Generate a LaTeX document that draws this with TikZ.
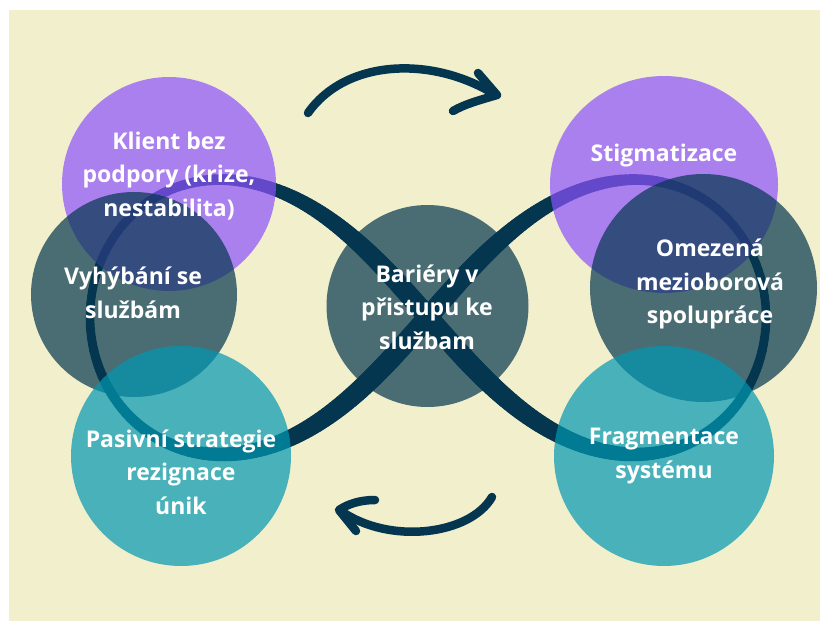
\documentclass[tikz,border=0pt]{standalone}
\usepackage{fontspec}
\setmainfont{Open Sans}
\usetikzlibrary{shapes.geometric}
\definecolor{bg}{RGB}{242,239,204}
\definecolor{navy}{RGB}{4,54,80}
\definecolor{purp}{RGB}{140,82,255}
\definecolor{tealc}{RGB}{0,151,178}
\begin{document}
\begin{tikzpicture}[x=1pt,y=-1pt,
  declare function={
    loopx(\t)=428+338*cos(\t)/(1+sin(\t)*sin(\t));
    loopy(\t)=317-1.15*338*sin(\t)*cos(\t)/(1+sin(\t)*sin(\t));
    loopw(\t)=8.5+11.5*abs(sin(\t))*abs(sin(\t))*abs(sin(\t))+3*max(0,-sin(2*\t));
  },
  blob/.style={ellipse, inner sep=0pt, fill opacity=0.7, draw=none},
  purpleblob/.style={blob, fill=purp},
  slateblob/.style={blob, fill=navy},
  tealblob/.style={blob, fill=tealc},
  lbl/.style={text=white, align=center, inner sep=0pt,
    font=\fontsize{23}{33.5}\selectfont\bfseries},
  arrowstroke/.style={draw=navy, line width=8.5pt, line cap=round, line join=round}
]
\useasboundingbox (0,0) rectangle (820,621);
\fill[white] (0,0) rectangle (820,621);
\fill[bg] (9,10) rectangle (820,621);

% infinity loop (brush stroke with varying width)
\foreach \i in {0,...,359} {
  \pgfmathsetmacro\w{loopw(\i+0.5)}
  \draw[navy, line cap=round, line width=\w pt]
    ({loopx(\i)},{loopy(\i)}) -- ({loopx(\i+1)},{loopy(\i+1)});
}

% circles
\node[purpleblob, minimum width=214pt, minimum height=214pt] (p1) at (169,184) {};
\node[purpleblob, minimum width=228pt, minimum height=217pt] (p2) at (664,184.5) {};
\node[slateblob, minimum width=206pt, minimum height=205pt] (s1) at (134,294.5) {};
\node[slateblob, minimum width=227pt, minimum height=228pt] (s2) at (703.5,288) {};
\node[tealblob, minimum width=220pt, minimum height=220pt] (t1) at (181,456) {};
\node[tealblob, minimum width=220pt, minimum height=220pt] (t2) at (664,456) {};
\node[slateblob, minimum width=202pt, minimum height=202pt] (c) at (427.5,306) {};

% labels
\node[lbl] (lklient) at (169,176) {Klient bez\\podpory (krize,\\nestabilita)};
\node[lbl] (lvyh) at (133,293) {Vyhýbání se\\službám};
\node[lbl] (lpas) at (181,472) {Pasivní strategie\\rezignace\\únik};
\node[lbl] (lbar) at (427,307) {Bariéry v\\přistupu ke\\službam};
\node[lbl] (lstig) at (664,156) {Stigmatizace};
\node[lbl] (lome) at (710,284) {Omezená\\mezioborová\\spolupráce};
\node[lbl] (lfrag) at (664,456) {Fragmentace\\systému};

% top arrow
\coordinate (as) at (308,113);
\coordinate (ae) at (494,94);
\coordinate (atip) at (497,95);
\coordinate (aup) at (478,73);
\coordinate (alo) at (453,111);
\draw[arrowstroke] (as) .. controls (345,60) and (430,55) .. (ae);
\draw[arrowstroke] (aup) -- (atip) .. controls (480,100) and (465,104) .. (alo);

% bottom arrow
\coordinate (bs) at (492,497);
\coordinate (be) at (341,511);
\coordinate (btip) at (339,510);
\coordinate (bup) at (375,500);
\coordinate (blo) at (356,531);
\draw[arrowstroke] (bs) .. controls (470,535) and (390,545) .. (be);
\draw[arrowstroke] (bup) .. controls (360,500) and (348,504) .. (btip) -- (blo);
\end{tikzpicture}
\end{document}
